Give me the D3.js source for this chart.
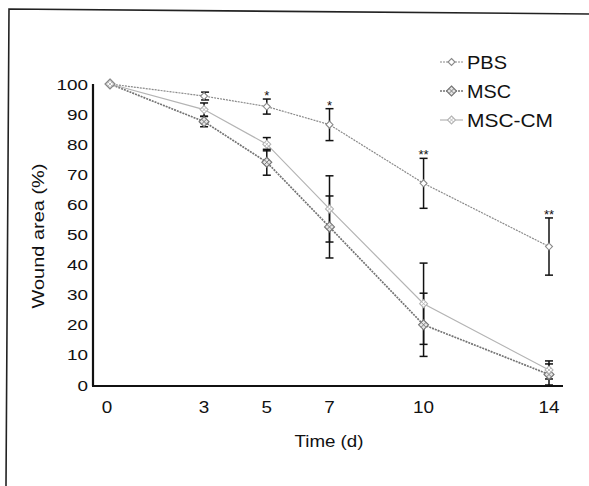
<html>
<head>
  <title>Wound area</title>
  <script src='https://d3js.org/d3.v7.min.js'></script>
</head>
<body style="margin:0;background:white">
<script>

var days = [0, 3, 5, 7, 10, 14],
    yTicks = [0, 10, 20, 30, 40, 50, 60, 70, 80, 90, 100],
    groups = ["PBS", "MSC", "MSC-CM"];

// mean wound area (%) per day
var pbs    = [100, 96, 92.5, 86.5, 67, 46],
    msc    = [100, 87.5, 74, 52.5, 20, 3.5],
    mscCm  = [100, 91.5, 80, 58.5, 27, 5];

// error (+/-)
var pbsErr   = [0, 1.3, 2.5, 5.3, 8.3, 9.5],
    mscErr   = [0, 1.7, 4.3, 10.3, 10.5, 3.5],
    mscCmErr = [0, 2.2, 2.2, 11, 13.5, 3];

// significance marks (PBS vs treated)
var stars = ["", "", "*", "*", "**", "**"];

var width = 589,
    height = 486;

var svg = d3.select('body')
  .append('svg')
  .attr('width', width)
  .attr('height', height)
  .style('font-family', 'Liberation Sans, Arial, sans-serif');

// scanned frame
svg.append('path')
  .attr('d', 'M6,486 L9,9 L589,14')
  .attr('fill', 'none')
  .attr('stroke', '#222')
  .attr('stroke-width', 1.6);

var x = d3.scaleLinear().domain([0, 14]).range([110, 549]);
var y = d3.scaleLinear().domain([0, 100]).range([385, 84]);

// axes
svg.append('line')
  .attr('x1', 93).attr('x2', 93)
  .attr('y1', y(100)).attr('y2', y(0) + 1)
  .attr('stroke', '#111').attr('stroke-width', 2.2);
svg.append('line')
  .attr('x1', 92).attr('x2', 563)
  .attr('y1', y(0) + 1).attr('y2', y(0) + 1)
  .attr('stroke', '#111').attr('stroke-width', 2.2);

svg.selectAll('text.ytick')
  .data(yTicks)
  .enter()
  .append('text')
  .attr('class', 'ytick')
  .attr('x', 88)
  .attr('y', function(d) { return y(d); })
  .attr('text-anchor', 'end')
  .attr('dominant-baseline', 'central')
  .attr('font-size', 15.5)
  .attr('textLength', function(d) { return String(d).length * 10.5; })
  .attr('lengthAdjust', 'spacingAndGlyphs')
  .attr('fill', '#111')
  .text(function(d) { return d; });

svg.selectAll('text.xtick')
  .data(days)
  .enter()
  .append('text')
  .attr('class', 'xtick')
  .attr('x', function(d) { return x(d) - (d == 0 ? 3 : 0); })
  .attr('y', 407)
  .attr('text-anchor', 'middle')
  .attr('dominant-baseline', 'central')
  .attr('font-size', 16.5)
  .attr('textLength', function(d) { return String(d).length * 10.5; })
  .attr('lengthAdjust', 'spacingAndGlyphs')
  .attr('fill', '#111')
  .text(function(d) { return d; });

svg.append('text')
  .attr('transform', 'translate(38,236)rotate(-90)')
  .attr('text-anchor', 'middle')
  .attr('dominant-baseline', 'central')
  .attr('font-size', 17)
  .attr('textLength', 145)
  .attr('lengthAdjust', 'spacingAndGlyphs')
  .attr('fill', '#111')
  .text('Wound area (%)');

svg.append('text')
  .attr('x', 329)
  .attr('y', 441)
  .attr('text-anchor', 'middle')
  .attr('dominant-baseline', 'central')
  .attr('font-size', 17)
  .attr('textLength', 69)
  .attr('lengthAdjust', 'spacingAndGlyphs')
  .attr('fill', '#111')
  .text('Time (d)');

var series = [
  {name: groups[0], vals: pbs,   err: pbsErr,   color: '#8a8a8a', width: 1.2, dash: '2,1', marker: 'open',  legW: 40},
  {name: groups[1], vals: msc,   err: mscErr,   color: '#747474', width: 1.7, dash: '2,1', marker: 'hatch', legW: 44},
  {name: groups[2], vals: mscCm, err: mscCmErr, color: '#b4b4b4', width: 1.2, dash: null,  marker: 'cross', legW: 86}
];

var line = d3.line()
  .x(function(d) { return x(d[0]); })
  .y(function(d) { return y(d[1]); });

// lines
series.forEach(function(s) {
  svg.append('path')
    .datum(days.map(function(d, i) { return [d, s.vals[i]]; }))
    .attr('fill', 'none')
    .attr('stroke', s.color)
    .attr('stroke-width', s.width)
    .attr('stroke-dasharray', s.dash)
    .attr('d', line);
});

// error bars
series.forEach(function(s) {
  var eb = svg.append('g');
  days.forEach(function(d, i) {
    if (s.err[i] == 0) return;
    var cx = x(d) + (s.name == 'PBS' && d == 3 ? 1 : 0);
    var top = y(s.vals[i] + s.err[i]), bot = y(Math.max(0, s.vals[i] - s.err[i]));
    eb.append('line').attr('x1', cx).attr('x2', cx).attr('y1', top).attr('y2', bot)
      .attr('stroke', '#111').attr('stroke-width', 1.5);
    eb.append('line').attr('x1', cx - 4).attr('x2', cx + 4).attr('y1', top).attr('y2', top)
      .attr('stroke', '#111').attr('stroke-width', 1.5);
    eb.append('line').attr('x1', cx - 4).attr('x2', cx + 4).attr('y1', bot).attr('y2', bot)
      .attr('stroke', '#111').attr('stroke-width', 1.5);
  });
});

function drawMarker(g, type, cx, cy, color) {
  if (type == 'open') {
    g.append('path')
      .attr('d', 'M' + cx + ',' + (cy - 3.5) + 'l3.5,3.5l-3.5,3.5l-3.5,-3.5z')
      .attr('fill', 'white').attr('stroke', color).attr('stroke-width', 1.1);
  } else if (type == 'hatch') {
    g.append('path')
      .attr('d', 'M' + cx + ',' + (cy - 5) + 'l5,5l-5,5l-5,-5z')
      .attr('fill', '#e6e6e6').attr('stroke', color).attr('stroke-width', 1.1);
    g.append('path')
      .attr('d', 'M' + (cx - 2.5) + ',' + (cy - 2.5) + 'l5,5M' + (cx + 2.5) + ',' + (cy - 2.5) + 'l-5,5')
      .attr('stroke', color).attr('stroke-width', 0.9);
  } else {
    g.append('path')
      .attr('d', 'M' + cx + ',' + (cy - 4) + 'l4,4l-4,4l-4,-4z')
      .attr('fill', 'white').attr('stroke', color).attr('stroke-width', 1.1);
    g.append('path')
      .attr('d', 'M' + (cx - 2) + ',' + (cy - 2) + 'l4,4M' + (cx + 2) + ',' + (cy - 2) + 'l-4,4')
      .attr('stroke', color).attr('stroke-width', 0.9);
  }
}

// markers
series.forEach(function(s) {
  var mg = svg.append('g');
  days.forEach(function(d, i) {
    drawMarker(mg, s.marker, x(d), y(s.vals[i]), s.color);
  });
});

// significance stars
svg.selectAll('text.star')
  .data(days)
  .enter()
  .append('text')
  .attr('class', 'star')
  .attr('x', function(d) { return x(d); })
  .attr('y', function(d, i) { return y(pbs[i] + pbsErr[i]) + 1; })
  .attr('text-anchor', 'middle')
  .attr('font-size', 13)
  .attr('fill', '#111')
  .text(function(d, i) { return stars[i]; });

// legend
var legY = [62, 91, 120];
series.forEach(function(s, i) {
  var lg = svg.append('g');
  lg.append('line')
    .attr('x1', 440).attr('x2', 463)
    .attr('y1', legY[i]).attr('y2', legY[i])
    .attr('stroke', s.color).attr('stroke-width', s.width)
    .attr('stroke-dasharray', s.dash);
  drawMarker(lg, s.marker, 451.5, legY[i], s.color);
  lg.append('text')
    .attr('x', 467)
    .attr('y', legY[i])
    .attr('dominant-baseline', 'central')
    .attr('font-size', 18.5)
    .attr('textLength', s.legW)
    .attr('lengthAdjust', 'spacingAndGlyphs')
    .attr('fill', '#111')
    .text(s.name);
});

</script>
</body>
</html>
